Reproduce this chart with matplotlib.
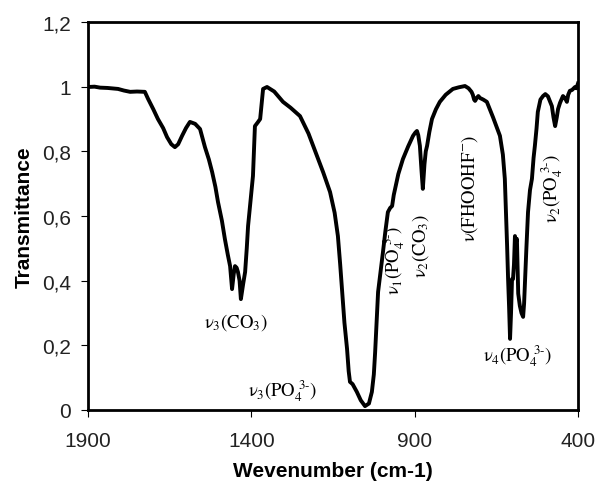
import matplotlib
matplotlib.use("Agg")
import matplotlib.pyplot as plt
import numpy as np

plt.rcParams['mathtext.fontset'] = 'stix'

wavenumber = [1900, 1880, 1863, 1840, 1808, 1790, 1771, 1750, 1726, 1716, 1700, 1686, 1670,
              1658, 1645, 1634, 1624, 1612, 1600, 1588, 1572, 1557, 1542, 1530, 1520, 1510,
              1502, 1490, 1481, 1472, 1465, 1459, 1454, 1450, 1445, 1441, 1436, 1432, 1425,
              1419, 1414, 1410, 1402, 1395, 1389, 1380, 1373, 1364, 1352, 1330, 1303, 1280,
              1251, 1225, 1199, 1180, 1159, 1145, 1135, 1128, 1122, 1115, 1107, 1102, 1098,
              1090, 1077, 1065, 1052, 1040, 1031, 1025, 1021, 1016, 1012, 1004, 997, 990,
              982, 975, 969, 964, 960, 950, 936, 920, 905, 898, 893, 889, 884, 879, 875, 870,
              866, 862, 855, 847, 835, 823, 805, 783, 765, 746, 735, 726, 722, 718, 715, 710,
              705, 700, 690, 679, 660, 639, 630, 624, 620, 617, 614, 611, 608, 605, 602, 599,
              596, 593, 590, 587, 583, 578, 573, 568, 565, 562, 558, 553, 547, 541, 536, 532,
              527, 523, 515, 507, 500, 492, 486, 480, 475, 470, 465, 461, 455, 446, 440, 434,
              430, 425, 418, 409, 405, 400]
transmittance = [0.999, 1.000, 0.997, 0.996, 0.993, 0.988, 0.984, 0.985, 0.984, 0.962, 0.930,
                 0.900, 0.872, 0.844, 0.822, 0.813, 0.822, 0.848, 0.872, 0.891, 0.885, 0.869,
                 0.813, 0.775, 0.736, 0.690, 0.643, 0.585, 0.529, 0.480, 0.445, 0.374, 0.420,
                 0.445, 0.440, 0.427, 0.400, 0.343, 0.390, 0.427, 0.500, 0.569, 0.650, 0.724,
                 0.878, 0.890, 0.900, 0.993, 0.999, 0.985, 0.953, 0.935, 0.909, 0.855, 0.786,
                 0.735, 0.674, 0.610, 0.538, 0.450, 0.365, 0.270, 0.189, 0.120, 0.087, 0.080,
                 0.056, 0.030, 0.012, 0.020, 0.056, 0.110, 0.179, 0.280, 0.365, 0.430, 0.489,
                 0.550, 0.612, 0.625, 0.631, 0.665, 0.684, 0.730, 0.776, 0.815, 0.848, 0.858,
                 0.863, 0.850, 0.817, 0.740, 0.684, 0.760, 0.800, 0.817, 0.860, 0.900, 0.930,
                 0.953, 0.975, 0.993, 0.998, 1.002, 0.995, 0.984, 0.975, 0.960, 0.956, 0.965,
                 0.971, 0.965, 0.960, 0.953, 0.905, 0.848, 0.790, 0.715, 0.600, 0.507, 0.405,
                 0.320, 0.220, 0.300, 0.405, 0.405, 0.450, 0.538, 0.520, 0.529, 0.360, 0.322,
                 0.300, 0.288, 0.330, 0.405, 0.500, 0.612, 0.680, 0.715, 0.780, 0.817, 0.870,
                 0.922, 0.960, 0.971, 0.977, 0.970, 0.955, 0.940, 0.905, 0.878, 0.905, 0.931,
                 0.950, 0.971, 0.965, 0.953, 0.975, 0.987, 0.990, 0.999, 0.995, 1.010]

annotations = [
    (r'$\mathrm{\nu_3(CO_3)}$', 1447, 0.275, 0),
    (r'$\mathrm{\nu_3(PO_4^{\ 3\text{-}})}$', 1303, 0.062, 0),
    (r'$\mathrm{\nu_4(PO_4^{\ 3\text{-}})}$', 584, 0.17, 0),
    (r'$\mathrm{\nu_1(PO_4^{\ 3\text{-}})}$', 963, 0.467, 90),
    (r'$\mathrm{\nu_2(CO_3)}$', 881, 0.51, 90),
    (r'$\mathrm{\nu(FHOOHF^{-})}$', 731, 0.69, 90),
    (r'$\mathrm{\nu_2(PO_4^{\ 3\text{-}})}$', 480, 0.69, 90),
]

xticks = [1900, 1400, 900, 400]
yticks = [0, 0.2, 0.4, 0.6, 0.8, 1.0, 1.2]
ytick_labels = ['0', '0,2', '0,4', '0,6', '0,8', '1', '1,2']

fig = plt.figure(figsize=(5.99, 4.89), dpi=100)
ax = fig.add_axes([88/599, 78/489, 490/599, 388/489])
ax.plot(wavenumber, transmittance, color='black', lw=2.8, solid_joinstyle='round')
ax.set_xlim(1900, 400)
ax.set_ylim(0, 1.2)
ax.set_xticks(xticks)
ax.set_xticklabels([str(t) for t in xticks])
ax.set_yticks(yticks)
ax.set_yticklabels(ytick_labels)
for s in ax.spines.values():
    s.set_linewidth(2.0)
ax.tick_params(axis='both', direction='out', length=5, width=0.8, labelsize=15,
               colors='black')
ax.tick_params(axis='y', pad=7)
ax.tick_params(axis='x', pad=10)
for lab in ax.get_xticklabels() + ax.get_yticklabels():
    lab.set_fontfamily('Liberation Sans')
    lab.set_color('#222222')

ax.set_xlabel('Wevenumber (cm-1)', fontsize=15, fontweight='bold',
              fontfamily='Liberation Sans', labelpad=8)
ax.set_ylabel('Transmittance', fontsize=15, fontweight='bold',
              fontfamily='Liberation Sans', labelpad=6)

for txt, x, y, rot in annotations:
    ax.text(x, y, txt, fontsize=13.5, rotation=rot, ha='center', va='center')

fig.savefig('out.png', dpi=100)
